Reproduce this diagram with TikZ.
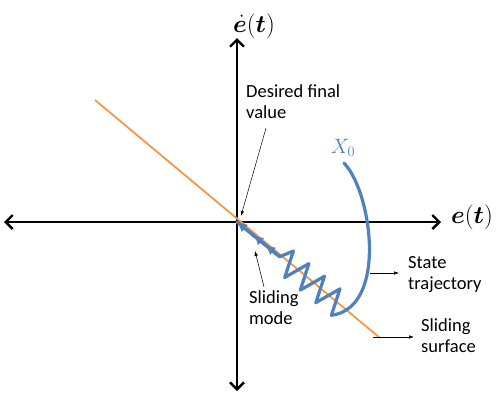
\documentclass[tikz,border=0pt]{standalone}
\usepackage{fontspec}
\setmainfont{Carlito}
\usepackage{amsmath,bm}
\usetikzlibrary{arrows.meta,decorations.markings}
\definecolor{axblue}{HTML}{4F81BD}
\definecolor{surforange}{HTML}{F79646}
\begin{document}
\begin{tikzpicture}[x=1pt,y=-1pt,
  axis/.style={line width=2.8pt,-{Straight Barb[length=7pt,width=14pt,line width=2.4pt]}},
  lbl/.style={font=\fontsize{18.5}{21.5}\selectfont,align=left,anchor=north west,inner sep=0pt},
  mathlbl/.style={inner sep=0pt,font=\fontsize{24}{26}\selectfont},
  callout/.style={-{Latex[length=5pt,width=3.5pt]},line width=0.5pt},
  traj/.style={axblue,line width=3.2pt,line join=round,line cap=round}]
\useasboundingbox (0,0) rectangle (501,392);
% axes
\coordinate (O) at (237,222);
\coordinate (xl) at (4,222);
\coordinate (xr) at (441,222);
\coordinate (yt) at (237,38);
\coordinate (yb) at (237,391);
\draw[axis] (O) -- (xr);
\draw[axis] (O) -- (xl);
\draw[axis] (O) -- (yt);
\draw[axis] (O) -- (yb);
\node[mathlbl] (edot) at (254,26) {$\dot{\bm{e}}(\bm{t})$};
\node[mathlbl] (et) at (472,217) {$\bm{e}(\bm{t})$};
% sliding surface
\coordinate (s1) at (95,100);
\coordinate (s2) at (380,338);
\draw[surforange,line width=1.8pt] (s1) -- (s2);
% trajectory
\coordinate (t0) at (344,163);
\coordinate (v4) at (331.4,315.3);
\coordinate (p4) at (340.0,288.8);
\coordinate (v3) at (315.8,302.7);
\coordinate (p3) at (324.5,276.2);
\coordinate (v2) at (300.3,290.1);
\coordinate (p2) at (308.9,263.6);
\coordinate (v1) at (284.7,277.5);
\coordinate (p1) at (293.4,251.0);
\coordinate (zb) at (279.7,256.7);
\draw[traj] (t0) .. controls (372,192) and (388,308) .. (v4)
  -- (p4) -- (v3) -- (p3) -- (v2) -- (p2) -- (v1) -- (p1) -- (zb);
\draw[traj,postaction={decorate},decoration={markings,
  mark=at position 0.32 with {\arrow{Latex[length=9pt,width=10pt]}},
  mark=at position 0.6 with {\arrow{Latex[length=9pt,width=10pt]}}}] (zb) -- (O);
\draw[traj,-{Latex[length=10pt,width=10pt]}] (zb) -- (O);
\node[inner sep=0pt,axblue,font=\fontsize{22}{24}\selectfont] (x0) at (343,148) {$X_0$};
% labels
\node[lbl] (dfv) at (246,84) {Desired final\\value};
\node[lbl] (sm) at (249,290) {Sliding\\mode};
\node[lbl] (st) at (408,256) {State\\trajectory};
\node[lbl] (ss) at (421,318) {Sliding\\surface};
\coordinate (a1) at (266,128);
\coordinate (a2) at (241,216);
\draw[callout] (a1) -- (a2);
\coordinate (b1) at (264,287);
\coordinate (b2) at (255,251);
\draw[callout] (b1) -- (b2);
\coordinate (c1) at (370,273);
\coordinate (c2) at (399,273);
\draw[callout] (c1) -- (c2);
\coordinate (d1) at (373,337);
\coordinate (d2) at (414,337);
\draw[callout] (d1) -- (d2);
\end{tikzpicture}
\end{document}
